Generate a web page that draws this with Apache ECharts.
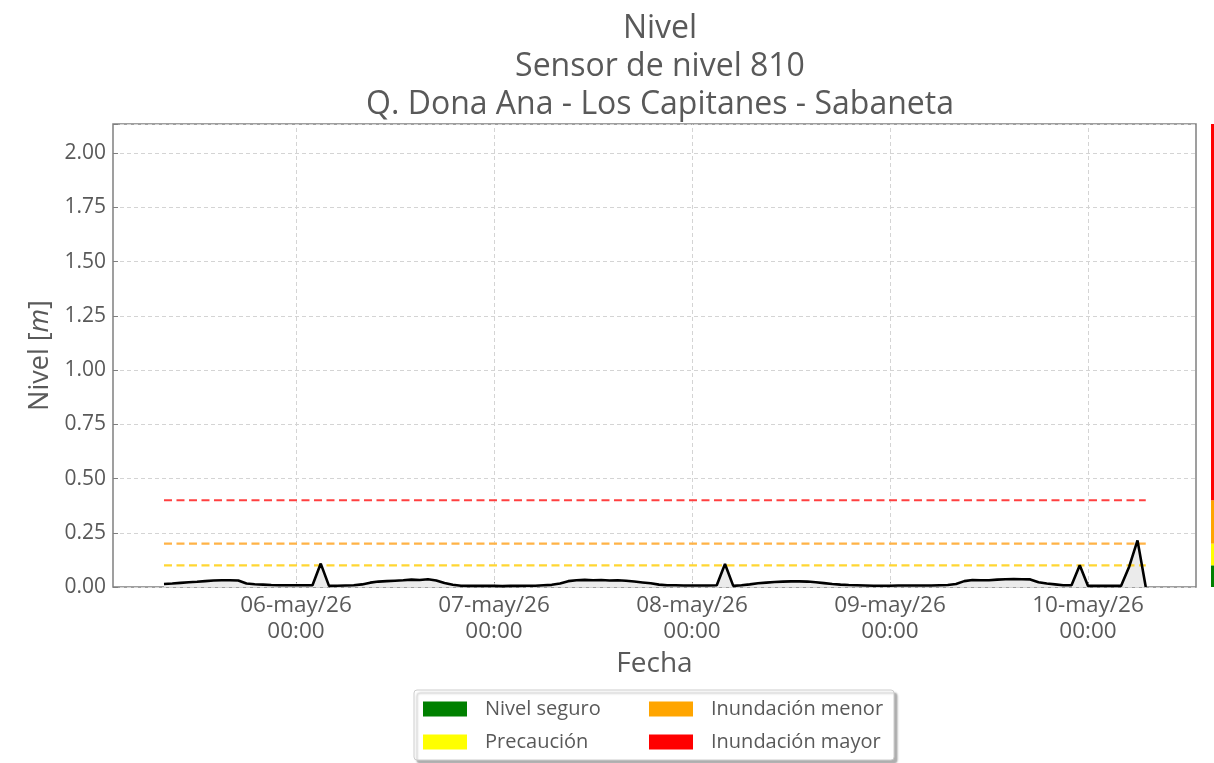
<!DOCTYPE html>
<html>
<head>
<meta charset="utf-8">
<script src="https://cdn.jsdelivr.net/npm/echarts@6/dist/echarts.min.js"></script>
<style>
html,body{margin:0;padding:0;background:#fff;}
#chart{width:1214px;height:763px;}
</style>
</head>
<body>
<div id="chart"></div>
<script>
// ---- Data ----
const titulo = 'Nivel\nSensor de nivel 810\nQ. Dona Ana - Los Capitanes - Sabaneta';
// hourly readings, first at 05-may/26 08:00 (hours counted from 05-may/26 00:00)
const horaInicio = 8;
const niveles = [
  0.014, 0.016, 0.019, 0.022, 0.024, 0.027, 0.030, 0.031, 0.031, 0.030, 0.016, 0.013, 0.011, 0.009, 0.008, 0.008,
  0.008, 0.008, 0.008, 0.108, 0.005, 0.006, 0.007, 0.008, 0.012, 0.020, 0.025, 0.027, 0.029, 0.031, 0.034, 0.032,
  0.036, 0.030, 0.018, 0.010, 0.006, 0.005, 0.005, 0.006,
  0.005, 0.004, 0.005, 0.005, 0.006, 0.006, 0.008, 0.010, 0.016, 0.027, 0.031, 0.033, 0.031, 0.032, 0.030, 0.031,
  0.029, 0.025, 0.021, 0.017, 0.011, 0.008, 0.008, 0.007,
  0.007, 0.007, 0.007, 0.008, 0.106, 0.005, 0.008, 0.012, 0.017, 0.020, 0.023, 0.025, 0.026, 0.026, 0.025, 0.022,
  0.018, 0.014, 0.011, 0.009, 0.008, 0.007, 0.006, 0.006,
  0.006, 0.007, 0.007, 0.007, 0.007, 0.007, 0.008, 0.009, 0.014, 0.027, 0.032, 0.031, 0.031, 0.034, 0.036, 0.037,
  0.036, 0.035, 0.022, 0.016, 0.012, 0.008, 0.008, 0.100,
  0.005, 0.005, 0.005, 0.005, 0.005, 0.095, 0.215, 0.000
];
const tiempos = niveles.map((_, i) => horaInicio + i);

// thresholds
const umbrales = [0.1, 0.2, 0.4];
const nombresNivel = ['Nivel seguro', 'Precaución', 'Inundación menor', 'Inundación mayor'];
const coloresNivel = ['#008000', '#ffff00', '#ffa500', '#ff0000'];
const coloresUmbral = ['#ffd633', '#ffb347', '#ff4040'];

// axes
const xMin = 1.82, xMax = 133.09;   // hours from 05-may/26 00:00
const yMin = 0, yMax = 2.135;
const posEtiquetasX = [24, 48, 72, 96, 120];
const etiquetasX = ['06-may/26\n00:00', '07-may/26\n00:00', '08-may/26\n00:00', '09-may/26\n00:00', '10-may/26\n00:00'];

// ---- Chart ----
const FONT = '"Open Sans"';
const GREY = '#595959';
const chart = echarts.init(document.getElementById('chart'), null, {renderer: 'canvas'});

const serieDatos = tiempos.map((t, i) => [t, niveles[i]]);
const t0 = tiempos[0], t1 = tiempos[tiempos.length - 1];

const seriesUmbral = umbrales.map((u, i) => ({
  type: 'line', name: 'u' + i, xAxisIndex: 0, yAxisIndex: 0,
  data: [[t0, u], [t1, u]], symbol: 'none', silent: true, z: 3,
  lineStyle: {color: coloresUmbral[i], width: 2.2, type: [8, 4.5]}
}));

// segment heights of the colour bar
const limites = [0].concat(umbrales).concat([yMax]);
const seriesBarra = nombresNivel.map((n, i) => ({
  type: 'bar', name: n, xAxisIndex: 1, yAxisIndex: 1, stack: 'niv',
  data: [limites[i + 1] - limites[i]], barWidth: '100%', silent: true,
  itemStyle: {color: coloresNivel[i]}
}));

const legendText = {fontFamily: FONT, fontSize: 20, lineHeight: 22, color: GREY, rich: {g: {width: 13}}};

const option = {
  backgroundColor: '#ffffff',
  animation: false,
  title: {
    text: titulo, left: 655, top: 5, textAlign: 'center',
    textStyle: {fontFamily: FONT, fontSize: 32, fontWeight: 'normal', color: GREY, lineHeight: 38}
  },
  grid: [
    {left: 113, top: 124, right: 18, bottom: 176, show: true, borderColor: '#808080', borderWidth: 1.5, backgroundColor: 'transparent'},
    {left: 1211, top: 124, width: 6, bottom: 176}
  ],
  xAxis: [
    {
      type: 'value', gridIndex: 0, min: xMin, max: xMax,
      name: 'Fecha', nameLocation: 'middle', nameGap: 61,
      nameTextStyle: {fontFamily: FONT, fontSize: 28, color: GREY},
      axisLine: {show: false},
      axisTick: {show: true, inside: true, length: 5, customValues: posEtiquetasX, lineStyle: {color: '#808080'}},
      axisLabel: {
        customValues: posEtiquetasX, margin: 6, fontFamily: FONT, fontSize: 22.5, lineHeight: 26, color: GREY,
        formatter: v => { const k = posEtiquetasX.indexOf(v); return k >= 0 ? etiquetasX[k] : ''; }
      },
      splitLine: {show: false}
    },
    {type: 'category', gridIndex: 1, data: ['c'], show: false}
  ],
  yAxis: [
    {
      type: 'value', gridIndex: 0, min: yMin, max: yMax, interval: 0.25,
      name: '{t|Nivel [}{i|m}{t|]}', nameLocation: 'middle', nameGap: 54,
      nameTextStyle: {
        rich: {
          t: {fontFamily: FONT, fontSize: 27, color: GREY},
          i: {fontFamily: FONT, fontSize: 27, color: GREY, fontStyle: 'italic'}
        }
      },
      axisLine: {show: false},
      axisTick: {show: true, inside: true, length: 5, lineStyle: {color: '#808080'}},
      axisLabel: {
        margin: 7, fontFamily: FONT, fontSize: 21, color: GREY,
        formatter: v => (Math.abs(v / 0.25 - Math.round(v / 0.25)) < 1e-6 ? v.toFixed(2) : '')
      },
      splitLine: {show: true, lineStyle: {color: '#d4d4d4', width: 1, type: [4, 3]}}
    },
    {type: 'value', gridIndex: 1, min: yMin, max: yMax, show: false}
  ],
  legend: [
    {
      left: 423, top: 698, orient: 'vertical', padding: 0,
      itemWidth: 44, itemHeight: 15, itemGap: 11, icon: 'rect',
      selectedMode: false,
      data: [nombresNivel[0], nombresNivel[1]],
      formatter: n => '{g|}' + n,
      textStyle: legendText
    },
    {
      left: 649, top: 698, orient: 'vertical', padding: 0,
      itemWidth: 44, itemHeight: 15, itemGap: 11, icon: 'rect',
      selectedMode: false,
      data: [nombresNivel[2], nombresNivel[3]],
      formatter: n => '{g|}' + n,
      textStyle: legendText
    }
  ],
  graphic: [
    {
      type: 'rect', z: 1, silent: true,
      shape: {x: 414, y: 690, width: 480, height: 70, r: 3},
      style: {fill: '#ffffff', stroke: '#cccccc', lineWidth: 1, shadowBlur: 2, shadowOffsetX: 3, shadowOffsetY: 3, shadowColor: 'rgba(0,0,0,0.3)'}
    }
  ],
  series: [
    {
      type: 'line', name: 'area', xAxisIndex: 0, yAxisIndex: 0, data: serieDatos,
      symbol: 'none', silent: true, z: 2,
      lineStyle: {width: 0, opacity: 0},
      areaStyle: {color: '#ebebeb', opacity: 1}
    },
    ...seriesUmbral,
    {
      type: 'line', name: 'Nivel', xAxisIndex: 0, yAxisIndex: 0, data: serieDatos,
      symbol: 'none', silent: true, z: 4,
      lineStyle: {color: '#000000', width: 2.6},
      markLine: {
        silent: true, symbol: 'none', label: {show: false}, z: 1,
        lineStyle: {color: '#d4d4d4', width: 1, type: [4, 3]},
        data: posEtiquetasX.map(v => ({xAxis: v}))
      }
    },
    ...seriesBarra
  ]
};
chart.setOption(option);
</script>
</body>
</html>
